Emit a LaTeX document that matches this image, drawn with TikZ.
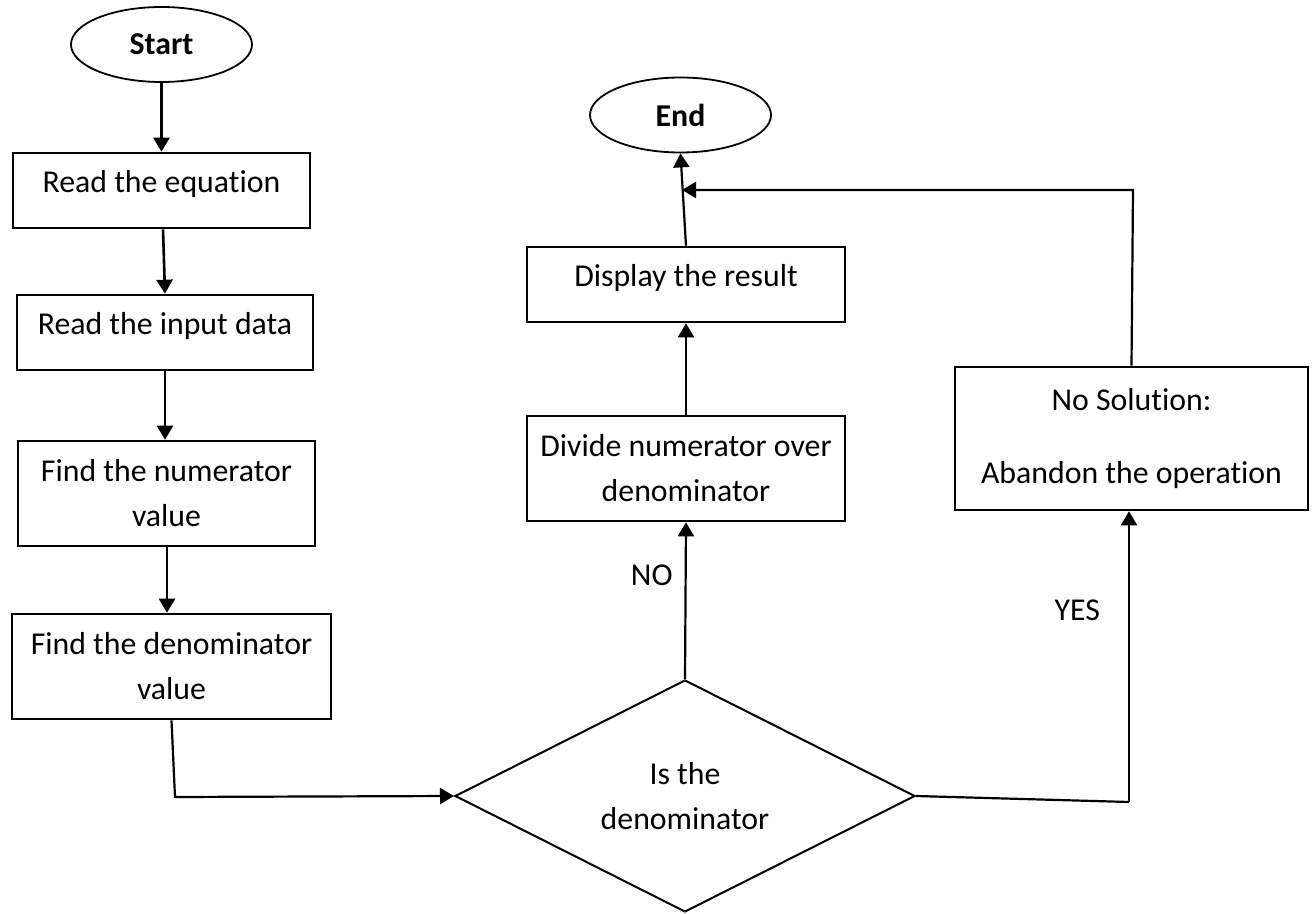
\documentclass[tikz,border=0pt]{standalone}
\usepackage{fontspec}
\setmainfont{Carlito}[Ligatures=NoCommon]
\usetikzlibrary{shapes.geometric,arrows.meta,calc}
\newcommand{\liftup}[1]{\raisebox{3pt}[\height][\depth]{#1}}
\begin{document}
\begin{tikzpicture}[x=0.5pt,y=-0.5pt,
  every node/.style={font=\fontsize{15.9}{22.5}\selectfont},
  procbox/.style={draw, line width=1.3pt, rectangle, inner sep=0pt, align=center},
  term/.style={draw, line width=0.9pt, ellipse, inner sep=0pt, minimum width=90.5pt, minimum height=37.5pt, font=\fontsize{15.9}{22.5}\selectfont\bfseries},
  decision/.style={draw, line width=1pt, diamond, aspect=2, inner sep=0pt, minimum width=230pt, minimum height=116pt, align=center},
  tip/.style={-{Triangle[length=7pt,width=8pt]}},
  flow/.style={line width=1.3pt, tip},
  thinflow/.style={line width=1.1pt, tip},
  plain/.style={line width=1.1pt},
  lbl/.style={inner sep=0pt}
]
\useasboundingbox (0,0) rectangle (1312,914);

\node[term] (start) at (161.5,44.5) {Start};
\node[procbox, minimum width=148.5pt, minimum height=37.5pt] (b1) at (161.5,190.5) {\liftup{Read the equation}};
\node[procbox, minimum width=148pt, minimum height=37.5pt] (b2) at (165,332.5) {\liftup{Read the input data}};
\node[procbox, minimum width=148.5pt, minimum height=52.5pt] (b3) at (166.5,493.5) {Find the numerator\\value};
\node[procbox, minimum width=159.5pt, minimum height=52.5pt] (b4) at (171.5,666.5) {Find the denominator\\value};
\node[decision] (dia) at (685,796) {Is the\\denominator};
\node[procbox, minimum width=159pt, minimum height=52.5pt] (div) at (686,468.5) {Divide numerator over\\denominator};
\node[procbox, minimum width=159pt, minimum height=37.5pt] (disp) at (686,284.5) {\liftup{Display the result}};
\node[term] (end) at (680.5,115) {End};
\node[procbox, minimum width=176.5pt, minimum height=71.5pt] (nosol) at (1131.5,438.5) {No Solution:\\[14pt]Abandon the operation};

\coordinate (c1) at (175,797);
\coordinate (c2) at (1129,802);
\coordinate (c3) at (1133,190);
\coordinate (j) at (682,190);

\draw[flow] (start.south) -- (b1.north);
\draw[flow] ($(b1.south)+(1.5,0)$) -- (b2.north);
\draw[flow] (b2.south) -- (b2.south |- b3.north);
\draw[flow] ($(b3.south)+(0.5,0)$) -- ($(b3.south |- b4.north)+(0.5,0)$);
\draw[thinflow] (b4.south) -- (c1) -- (dia.west);
\draw[thinflow] (dia.north) -- node[lbl, left=6pt, pos=0.66] {NO} (div.south);
\draw[thinflow] (div.north) -- (disp.south);
\draw[thinflow] (disp.north) -- (end.south);
\draw[plain] (dia.east) -- (c2);
\draw[thinflow] (c2) -- node[lbl, left=14pt, pos=0.66] {YES} (c2 |- nosol.south);
\draw[thinflow] (nosol.north) -- (c3) -- (j);
\end{tikzpicture}
\end{document}
